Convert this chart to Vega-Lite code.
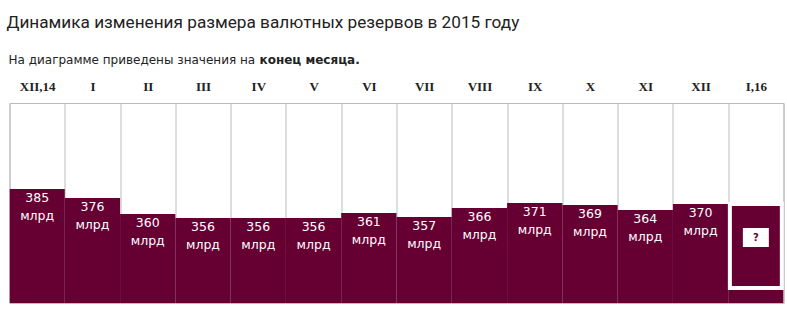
{
  "$schema": "https://vega.github.io/schema/vega-lite/v6.json",
  "width": 774,
  "height": 200,
  "autosize": "none",
  "padding": {"left": 9.5, "top": 103, "right": 3.5, "bottom": 25},
  "background": "white",
  "title": {
    "text": "Динамика изменения размера валютных резервов в 2015 году",
    "anchor": "start",
    "dx": -1.5,
    "font": "Roboto",
    "fontSize": 17.2,
    "fontWeight": "normal",
    "color": "#222222",
    "offset": 22
  },
  "config": {
    "view": {"stroke": "#bcbcbc", "strokeWidth": 1},
    "axisX": {
      "orient": "top",
      "domain": false,
      "ticks": false,
      "labelPadding": 10,
      "labelAngle": 0,
      "grid": true,
      "tickBand": "extent",
      "gridColor": "#bcbcbc",
      "gridOpacity": 1,
      "zindex": 1,
      "labelFont": "Liberation Serif",
      "labelFontWeight": "bold",
      "labelFontSize": 13,
      "labelColor": "#222222",
      "titleFont": "DejaVu Sans",
      "titleFontSize": 12,
      "titleFontWeight": "normal",
      "titleColor": "#222222",
      "titleAlign": "left",
      "titleBaseline": "middle",
      "titleAnchor": "start",
      "titleX": -1.5,
      "titleY": -44
    },
    "axisY": {
      "labels": false,
      "ticks": false,
      "domain": false,
      "grid": false,
      "titleFont": "DejaVu Sans",
      "titleFontSize": 12,
      "titleFontWeight": "bold",
      "titleColor": "#222222",
      "titleAngle": 0,
      "titleAlign": "left",
      "titleBaseline": "middle",
      "titleX": 249.5,
      "titleY": -44
    }
  },
  "data": {
    "values": [
      {"m": "XII,14", "v": 385},
      {"m": "I", "v": 376},
      {"m": "II", "v": 360},
      {"m": "III", "v": 356},
      {"m": "IV", "v": 356},
      {"m": "V", "v": 356},
      {"m": "VI", "v": 361},
      {"m": "VII", "v": 357},
      {"m": "VIII", "v": 366},
      {"m": "IX", "v": 371},
      {"m": "X", "v": 369},
      {"m": "XI", "v": 364},
      {"m": "XII", "v": 370},
      {"m": "I,16", "v": 369}
    ]
  },
  "encoding": {
    "x": {"field": "m", "type": "ordinal", "sort": null, "title": "На диаграмме приведены значения на", "scale": {"paddingInner": 0, "paddingOuter": 0}}
  },
  "layer": [
    {
      "mark": {"type": "bar", "color": "#660033", "clip": true},
      "encoding": {
        "y": {"field": "v", "type": "quantitative", "title": "конец месяца.", "scale": {"domain": [271, 471], "nice": false, "zero": false}}
      }
    },
    {
      "transform": [{"filter": "datum.m == 'I,16'"}],
      "mark": {"type": "bar", "fill": "#660033", "stroke": "white", "strokeWidth": 4, "width": {"band": 0.94}},
      "encoding": {
        "y": {"datum": 370, "type": "quantitative"},
        "y2": {"datum": 286}
      }
    },
    {
      "transform": [{"filter": "datum.m == 'I,16'"}],
      "mark": {"type": "bar", "fill": "white", "width": {"band": 0.47}},
      "encoding": {
        "y": {"datum": 346, "type": "quantitative"},
        "y2": {"datum": 327}
      }
    },
    {
      "transform": [{"filter": "datum.m == 'I,16'"}],
      "mark": {"type": "text", "text": "?", "color": "#660033", "font": "DejaVu Sans", "fontSize": 10, "fontWeight": "bold", "baseline": "middle"},
      "encoding": {
        "y": {"datum": 336.5, "type": "quantitative"}
      }
    },
    {
      "transform": [{"filter": "datum.m != 'I,16'"}],
      "mark": {"type": "text", "color": "white", "font": "DejaVu Sans", "fontSize": 12.5, "baseline": "middle", "dy": 9},
      "encoding": {
        "y": {"field": "v", "type": "quantitative"},
        "text": {"field": "v", "type": "quantitative"}
      }
    },
    {
      "transform": [{"filter": "datum.m != 'I,16'"}],
      "mark": {"type": "text", "text": "млрд", "color": "white", "font": "DejaVu Sans", "fontSize": 12.5, "baseline": "middle", "dy": 27},
      "encoding": {
        "y": {"field": "v", "type": "quantitative"}
      }
    }
  ]
}
